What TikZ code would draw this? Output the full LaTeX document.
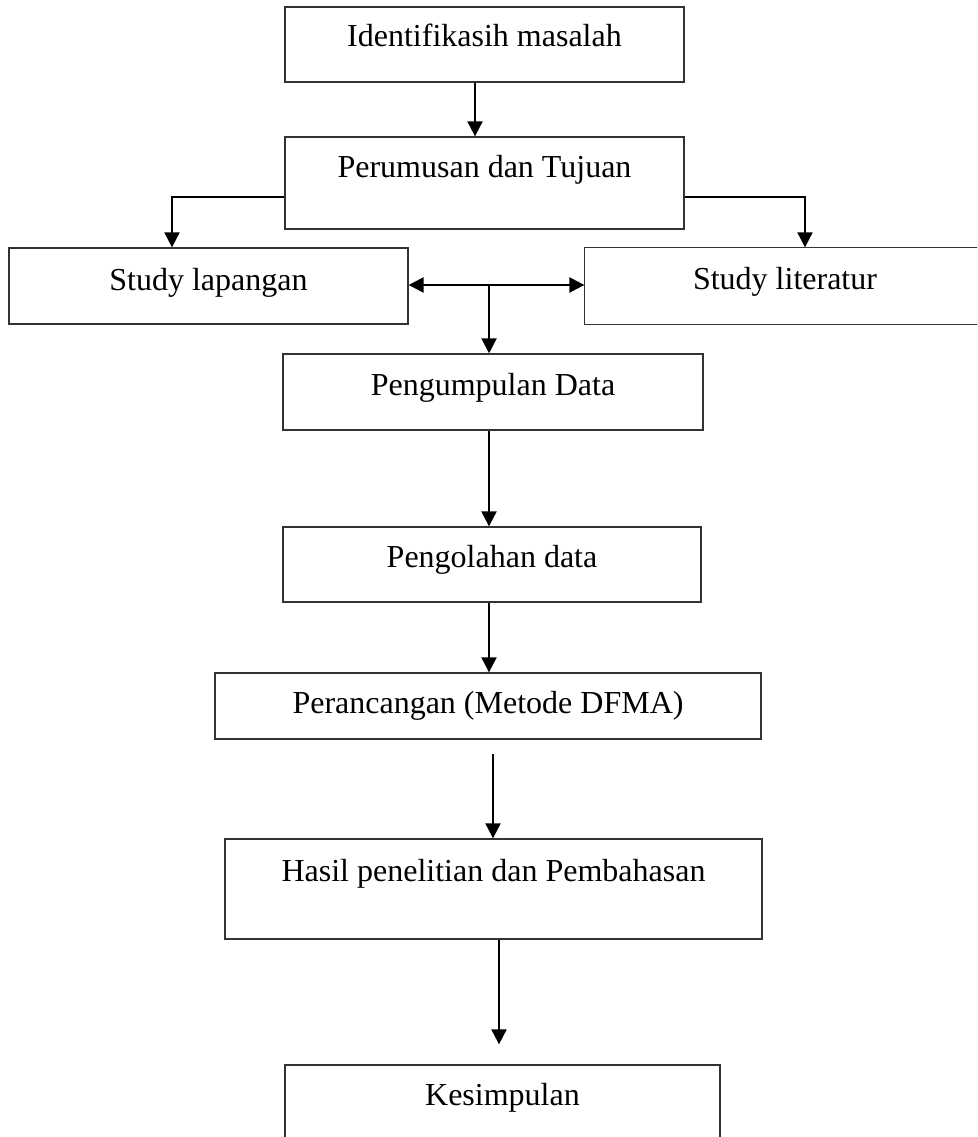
\documentclass[tikz,border=0pt]{standalone}
\usepackage{fontspec}
\setmainfont{Liberation Serif}
\usetikzlibrary{arrows.meta,calc}
\begin{document}
\begin{tikzpicture}[x=1pt,y=-1pt,
  box/.style={draw=black!80, line width=1.3pt, rectangle, inner sep=0pt,
    text height=40pt, anchor=base, font=\fontsize{32pt}{38pt}\selectfont},
  openbox/.style={box, draw=none},
  edge/.style={draw=black!80, line width=1.3pt},
  arr/.style={draw=black, line width=2pt, -{Triangle[length=15pt,width=15pt]}},
  darr/.style={draw=black, line width=2.5pt, {Triangle[length=15pt,width=15pt]}-{Triangle[length=15pt,width=15pt]}}]
\useasboundingbox (0,0) rectangle (977,1137);
\clip (0,0) rectangle (977,1137);

\node[box, minimum width=399pt, text depth=35pt] (n1) at (484.5,47) {Identifikasih masalah};
\node[box, minimum width=399pt, text depth=52pt] (n2) at (484.5,177) {Perumusan dan Tujuan};
\node[box, minimum width=399pt, text height=42pt, text depth=34pt] (n3) at (208.5,290) {Study lapangan};
\node[openbox, minimum width=400pt, text height=41pt, text depth=35pt] (n4) at (785,289) {Study literatur};
\draw[edge] ([xshift=40pt]n4.north east) -- (n4.north west) -- (n4.south west) -- ([xshift=40pt]n4.south east);
\node[box, minimum width=420pt, text height=41pt, text depth=35pt] (n5) at (493,395) {Pengumpulan Data};
\node[box, minimum width=418pt, text depth=35pt] (n6) at (492,567) {Pengolahan data};
\node[box, minimum width=546pt, text depth=26pt] (n7) at (488,713) {Perancangan (Metode DFMA)};
\node[box, minimum width=537pt, text height=42pt, text depth=58pt] (n8) at (493.5,881) {Hasil penelitian dan Pembahasan};
\node[box, minimum width=435pt, text depth=55pt] (n9) at (502.5,1105) {Kesimpulan};

\draw[arr] ([xshift=-9.5pt]n1.south) -- ([xshift=-9.5pt]n2.north);
\draw[arr] ([yshift=-14pt]n2.west) -| ([xshift=-36.5pt]n3.north);
\draw[arr] ([yshift=-14pt]n2.east) -| ([xshift=20pt]n4.north);
\draw[darr] ([yshift=1pt]n3.east) -- ([yshift=1pt]n4.west);
\coordinate (j) at ($(n3.east)!0.4576!(n4.west)$);
\draw[arr] (j) -- (j |- n5.north);
\draw[arr] ([xshift=-4pt]n5.south) -- ([xshift=-3pt]n6.north);
\draw[arr] ([xshift=-3pt]n6.south) -- ([xshift=1pt]n7.north);
\draw[arr] ([xshift=5pt,yshift=-14pt]n7.south) -- ([xshift=-0.5pt]n8.north);
\draw[arr] ([xshift=5.5pt]n8.south) -- ([xshift=-3.5pt,yshift=20pt]n9.north);
\end{tikzpicture}
\end{document}
